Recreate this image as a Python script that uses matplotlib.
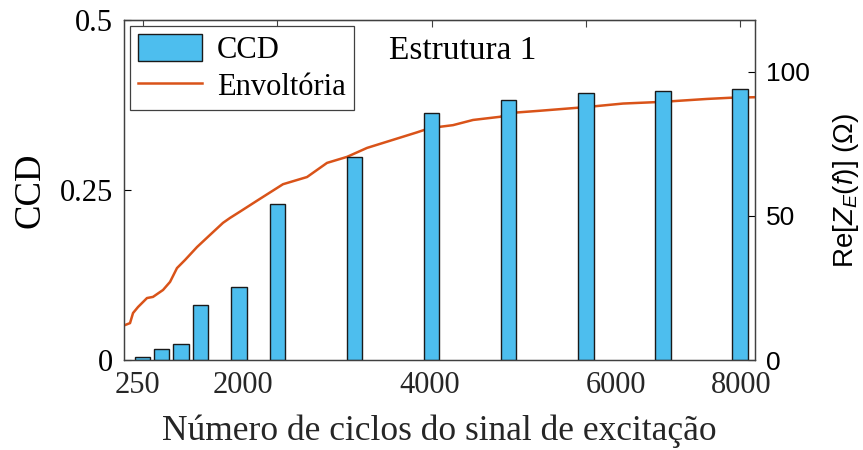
import matplotlib
matplotlib.use('Agg')
import matplotlib.pyplot as plt

# CCD per number of cycles (bars, left axis)
ciclos = [250, 500, 750, 1000, 1500, 2000, 3000, 4000, 5000, 6000, 7000, 8000]
ccd = [0.004, 0.016, 0.0235, 0.081, 0.107, 0.229, 0.299, 0.363, 0.382, 0.392, 0.396, 0.399]

# envelope Re[Z_E(f)] (line, right axis)
env_x = [10, 88, 127, 192, 308, 386, 516, 607, 697, 801, 957, 1125, 1294, 1385, 1515,
         1748, 2072, 2384, 2643, 2903, 3162, 3810, 3979, 4277, 4537, 4887, 5056, 5406,
         6016, 6483, 7002, 7573, 7871, 8195]
env_y = [12, 12.8, 16.3, 18.4, 21.5, 21.9, 24.3, 27.1, 31.9, 34.7, 39.2, 43.4, 47.6, 49.3, 51.5,
         55.5, 61, 63.5, 68.4, 70.5, 73.6, 79, 80.5, 81.5, 83.3, 84.4, 85.8, 86.5,
         87.8, 89, 89.6, 90.6, 91, 91.2]

top_ticks = [250, 2000, 4000, 6000, 8000]
bottom_tick_pos = [180, 1550, 3980, 6390, 8020]
bottom_tick_labels = ['250', '2000', '4000', '6000', '8000']

plt.rcParams['font.family'] = ['Liberation Serif', 'DejaVu Serif']
plt.rcParams['mathtext.fontset'] = 'custom'
plt.rcParams['mathtext.rm'] = 'Liberation Sans'
plt.rcParams['mathtext.it'] = 'Liberation Sans:italic'

fig = plt.figure(figsize=(8.63, 4.5), dpi=100)
ax = fig.add_axes([0.1437, 0.2, 0.7312, 0.7556])

bars = ax.bar(ciclos, ccd, width=200, color='#4DBEEE', edgecolor='#1a1a1a',
              linewidth=1.0, label='CCD', zorder=2)
ax.set_xlim(10, 8195)
ax.set_ylim(0, 0.5)
ax.set_yticks([0, 0.25, 0.5])
ax.set_yticklabels(['0', '0.25', '0.5'])
ax.set_ylabel('CCD', fontsize=26.5, labelpad=9)
ax.set_xlabel('Número de ciclos do sinal de excitação', fontsize=25.5,
              color='#262626', labelpad=10)

ax.set_xticks(bottom_tick_pos)
ax.set_xticklabels(bottom_tick_labels)
ax.tick_params(axis='x', length=0, labelsize=22, labelcolor='#262626', pad=8)
ax.tick_params(axis='y', direction='in', length=5, labelsize=22, right=True, pad=8)

top = ax.secondary_xaxis('top')
top.set_xticks(top_ticks)
top.tick_params(direction='in', length=5, labeltop=False, color='#404040')
top.spines['top'].set_color('#404040')

for s in ax.spines.values():
    s.set_color('#404040')
    s.set_linewidth(0.9)

ax2 = ax.twinx()
line, = ax2.plot(env_x, env_y, color='#D95319', linewidth=1.8, label='Envoltória', zorder=3)
ax2.set_ylim(0, 118)
ax2.set_yticks([0, 50, 100])
ax2.tick_params(axis='y', direction='in', length=5, labelsize=19, pad=8)
for lab in ax2.get_yticklabels():
    lab.set_family('Liberation Sans')
ax2.set_ylabel(r'Re[$Z_E$($f$)] ($\Omega$)', fontsize=20, family='Liberation Sans', labelpad=15)
for s in ax2.spines.values():
    s.set_color('#404040')
    s.set_linewidth(0.9)

leg = ax.legend([bars, line], ['CCD', 'Envoltória'], loc='upper left', fontsize=22,
                frameon=True, fancybox=False, edgecolor='#404040', framealpha=1,
                borderpad=0.25, handlelength=2.1, handleheight=1.0, handletextpad=0.5,
                labelspacing=0.2, borderaxespad=0.2)
leg.get_frame().set_linewidth(0.9)
leg.set_zorder(5)
ax.set_zorder(ax2.get_zorder() + 1)
ax.patch.set_visible(False)

ax.text(0.536, 0.91, 'Estrutura 1', transform=ax.transAxes, fontsize=24,
        ha='center', va='center')

fig.savefig('out.png', dpi=100)
